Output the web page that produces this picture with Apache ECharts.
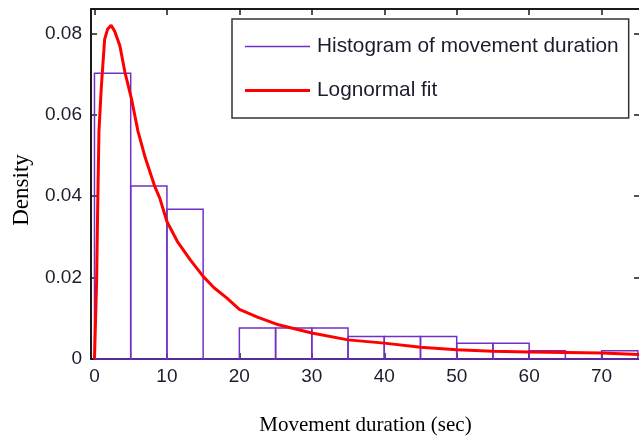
<!DOCTYPE html>
<html>
<head>
<meta charset="utf-8">
<script src="https://cdn.jsdelivr.net/npm/echarts@6/dist/echarts.min.js"></script>
<style>
  html, body { margin: 0; padding: 0; background: #fff; }
  #chart { width: 639px; height: 440px; }
</style>
</head>
<body>
<div id="chart"></div>
<script>
// Histogram bins of movement duration (sec): left edge, right edge, density
const binStart = [0, 5, 10, 15, 20, 25, 30, 35, 40, 45, 50, 55, 60, 65, 70];
const binEnd   = [5, 10, 15, 20, 25, 30, 35, 40, 45, 50, 55, 60, 65, 70, 75];
const binDensity = [0.0702, 0.0425, 0.0368, 0, 0.0076, 0.0076, 0.0076,
                    0.0055, 0.0055, 0.0055, 0.0039, 0.0039, 0.0020, 0, 0.0020];

// Lognormal fit curve, sampled along duration
const fitX = [0, 0.2, 0.3, 0.45, 0.62, 0.95, 1.4, 1.8, 2.3, 2.8, 3.5, 4.2, 5.1, 6.0,
              7.0, 8.3, 9.0, 10.0, 11.5, 13.2, 15.0, 16.5, 18.25, 20.0, 22.5, 25.4,
              30, 35, 40, 45, 50, 55, 60, 65, 70, 75.3];
const fitY = [0, 0, 0.0195, 0.038, 0.056, 0.067, 0.0785, 0.081, 0.082, 0.0805, 0.077,
              0.0705, 0.064, 0.056, 0.0495, 0.0425, 0.0396, 0.0338, 0.0287, 0.0244,
              0.0203, 0.0175, 0.015, 0.0122, 0.0103, 0.0084, 0.0064, 0.0047, 0.0039,
              0.0029, 0.0023, 0.0019, 0.0017, 0.0016, 0.0015, 0.0011];

const xTicks = [0, 10, 20, 30, 40, 50, 60, 70];
const yTicks = [0, 0.02, 0.04, 0.06, 0.08];

const X_MIN = -0.48, X_MAX = 75.3, Y_MAX = 0.086;
const HIST_COLOR = '#7030c8';
const FIT_COLOR = '#ff0000';
const AXIS_COLOR = '#1a1a1a';
const TICK_FONT = { fontFamily: 'Liberation Sans, Arial, sans-serif', fontSize: 19, color: '#1c1c2c' };

const histData = binStart.map((s, i) => [s, binEnd[i], binDensity[i]]);
const fitData = fitX.map((x, i) => [x, fitY[i]]);

const chart = echarts.init(document.getElementById('chart'), null, { renderer: 'canvas' });

const baseX = {
  type: 'value', min: X_MIN, max: X_MAX,
  splitLine: { show: false },
  axisLine: { show: true, onZero: false, lineStyle: { color: AXIS_COLOR, width: 2 } },
  axisTick: { show: true, inside: true, length: 6, customValues: xTicks, lineStyle: { color: AXIS_COLOR, width: 1.5 } }
};
const baseY = {
  type: 'value', min: 0, max: Y_MAX, interval: 0.02,
  splitLine: { show: false },
  axisLine: { show: true, onZero: false, lineStyle: { color: AXIS_COLOR, width: 2 } },
  axisTick: { show: true, inside: true, length: 6, customValues: yTicks, lineStyle: { color: AXIS_COLOR, width: 1.5 } }
};

chart.setOption({
  animation: false,
  backgroundColor: '#fff',
  grid: { left: 91, top: 9, width: 549, height: 350, outerBoundsMode: 'none', containLabel: false },
  legend: {
    orient: 'vertical',
    left: 232, top: 19,
    padding: [17, 10, 17, 13],
    itemWidth: 65, itemHeight: 14, itemGap: 23,
    borderColor: '#333', borderWidth: 1.5,
    backgroundColor: '#fff',
    symbolKeepAspect: true,
    textStyle: { fontFamily: 'Liberation Sans, Arial, sans-serif', fontSize: 20.8, color: '#1c1c2c', padding: [0, 0, 0, 2] },
    data: [
      { name: 'Histogram of movement duration', icon: 'path://M0,0H100V2.4H0Z', itemStyle: { color: HIST_COLOR, borderWidth: 0 } },
      { name: 'Lognormal fit', icon: 'path://M0,0H100V4.8H0Z', itemStyle: { color: FIT_COLOR, borderWidth: 0 } }
    ]
  },
  xAxis: [
    Object.assign({}, baseX, {
      position: 'bottom',
      name: 'Movement duration (sec)',
      nameLocation: 'middle', nameGap: 56,
      nameTextStyle: { fontFamily: 'Liberation Serif, Times New Roman, serif', fontSize: 21, color: '#000' },
      axisLabel: Object.assign({ show: true, margin: 8, customValues: xTicks, formatter: v => String(v) }, TICK_FONT)
    }),
    Object.assign({}, baseX, { position: 'top', axisLabel: { show: false } })
  ],
  yAxis: [
    Object.assign({}, baseY, {
      position: 'left',
      name: 'Density',
      nameLocation: 'middle', nameGap: 58, nameRotate: 90,
      nameTextStyle: { fontFamily: 'Liberation Serif, Times New Roman, serif', fontSize: 23, color: '#000', padding: [0, 12, 0, 0] },
      axisLabel: Object.assign({ show: true, margin: 9, customValues: yTicks, formatter: v => (v === 0 ? '0' : v.toFixed(2)) }, TICK_FONT)
    }),
    Object.assign({}, baseY, { position: 'right', axisLabel: { show: false } })
  ],
  series: [
    {
      name: 'Histogram of movement duration',
      type: 'custom',
      xAxisIndex: 0, yAxisIndex: 0,
      data: histData,
      encode: { x: [0, 1], y: 2 },
      itemStyle: { color: HIST_COLOR },
      z: 2,
      renderItem: function (params, api) {
        const top = api.coord([api.value(0), api.value(2)]);
        const bottom = api.coord([api.value(1), 0]);
        return {
          type: 'rect',
          shape: { x: top[0], y: top[1], width: bottom[0] - top[0], height: bottom[1] - top[1] },
          style: { fill: 'none', stroke: HIST_COLOR, lineWidth: 1.5 }
        };
      }
    },
    {
      name: 'Lognormal fit',
      type: 'line',
      xAxisIndex: 0, yAxisIndex: 0,
      data: fitData,
      showSymbol: false,
      symbol: 'none',
      smooth: false,
      itemStyle: { color: FIT_COLOR },
      lineStyle: { color: FIT_COLOR, width: 3 },
      z: 3
    }
  ]
});
</script>
</body>
</html>
